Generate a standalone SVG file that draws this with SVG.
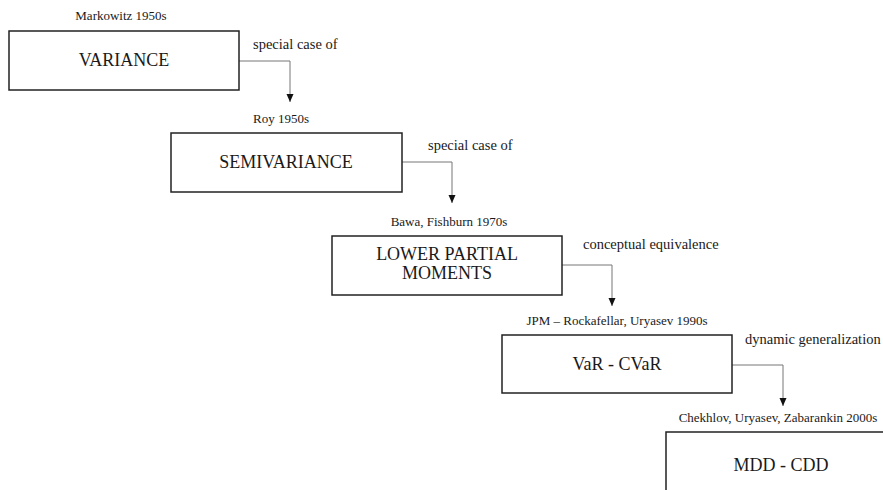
<svg xmlns="http://www.w3.org/2000/svg" width="883" height="490" viewBox="0 0 883 490">
<style>
.box{fill:#fff;stroke:#222;stroke-width:1.5}
text{font-family:'Liberation Serif','Times New Roman',serif;fill:#1a1a1a}
.main{font-size:18px;text-anchor:middle}
.cite{font-size:13px;text-anchor:middle}
.lbl{font-size:14.5px}
.conn{fill:none;stroke:#777;stroke-width:1}
</style>
<defs>
<marker id="arr" viewBox="0 0 8 8" refX="8" refY="4" markerWidth="8" markerHeight="8" markerUnits="userSpaceOnUse" orient="auto">
<path d="M0,0.5 L8,4 L0,7.5 Z" fill="#111"/>
</marker>
</defs>
<rect width="883" height="490" fill="#fff"/>
<g id="connectors">
<path class="conn" d="M239,61 H290 V102" marker-end="url(#arr)"/>
<path class="conn" d="M402,162 H452 V203" marker-end="url(#arr)"/>
<path class="conn" d="M562,265 H612 V306" marker-end="url(#arr)"/>
<path class="conn" d="M732,365 H783 V406" marker-end="url(#arr)"/>
<text class="lbl" x="253" y="49">special case of</text>
<text class="lbl" x="428" y="150">special case of</text>
<text class="lbl" x="583" y="249">conceptual equivalence</text>
<text class="lbl" x="745" y="344">dynamic generalization</text>
</g>
<g id="variance">
<text class="cite" x="121" y="20">Markowitz 1950s</text>
<rect class="box" x="9" y="31" width="230" height="59"/>
<text class="main" x="124" y="66">VARIANCE</text>
</g>
<g id="semivariance">
<text class="cite" x="281" y="123">Roy 1950s</text>
<rect class="box" x="171" y="133" width="231" height="59"/>
<text class="main" x="286" y="168">SEMIVARIANCE</text>
</g>
<g id="lpm">
<text class="cite" x="449" y="226">Bawa, Fishburn 1970s</text>
<rect class="box" x="332" y="236" width="230" height="59"/>
<text class="main" x="447" y="260">LOWER PARTIAL</text>
<text class="main" x="447" y="279">MOMENTS</text>
</g>
<g id="var-cvar">
<text class="cite" x="617" y="325">JPM – Rockafellar, Uryasev 1990s</text>
<rect class="box" x="502" y="335" width="230" height="58"/>
<text class="main" x="617" y="370">VaR - CVaR</text>
</g>
<g id="mdd-cdd">
<text class="cite" x="778" y="422">Chekhlov, Uryasev, Zabarankin 2000s</text>
<rect class="box" x="666" y="432" width="230" height="70"/>
<text class="main" x="781" y="471">MDD - CDD</text>
</g>
</svg>
